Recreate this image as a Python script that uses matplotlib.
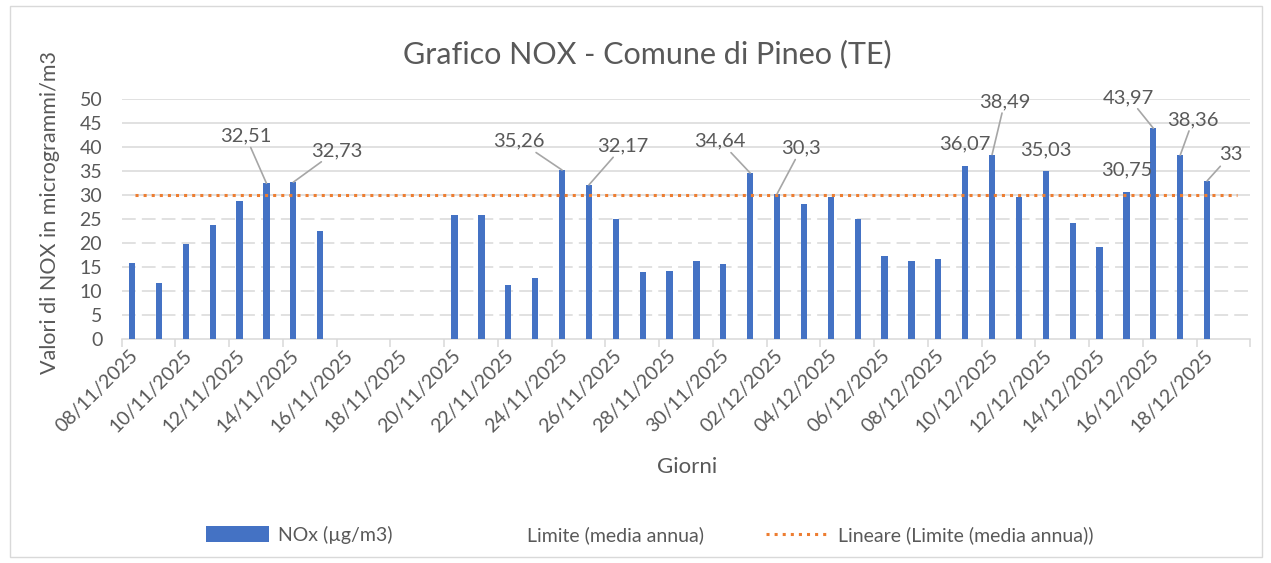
import numpy as np
import pandas as pd
import matplotlib
matplotlib.use('Agg')
import matplotlib.pyplot as plt
from matplotlib.patches import Patch, Rectangle
from matplotlib.lines import Line2D

plt.rcParams['font.family'] = ['Lato', 'DejaVu Sans']

# categories: one per day, 08/11/2025 -> 19/12/2025
giorni = pd.date_range('2025-11-08', '2025-12-19', freq='D').strftime('%d/%m/%Y').tolist()

# NOx values (µg/m3), NaN = no data
nox = [16.0, 11.8, 19.9, 23.8, 28.8, 32.51, 32.73, 22.6,
       np.nan, np.nan, np.nan, np.nan,
       25.9, 25.9, 11.3, 12.7, 35.26, 32.17, 25.0, 14.0, 14.2, 16.3, 15.6,
       34.64, 30.3, 28.1, 29.7, 25.0, 17.3, 16.3, 16.8, 36.07, 38.49, 29.7,
       35.03, 24.2, 19.2, 30.75, 43.97, 38.36, 33.0, np.nan]
limite = 30  # limite media annua

# where the data labels were dragged to (dx in categories, dy in value units)
label_offsets = {5: (-0.77, 9.8), 6: (1.62, 6.6), 16: (-1.59, 6.0), 17: (1.27, 8.1),
                 23: (-1.11, 6.6), 24: (0.9, 9.5), 31: (0, 4.7), 32: (0.47, 11.0),
                 34: (0, 4.4), 37: (0, 4.65), 38: (-0.92, 6.4), 39: (0.48, 7.4),
                 40: (0.87, 5.4)}

W, H = 1271, 563
txt = '#595959'
grid = '#D9D9D9'

fig = plt.figure(figsize=(W / 100, H / 100), dpi=100)
ax = fig.add_axes([121.7 / W, 1 - 339.3 / H, (1250.5 - 121.7) / W, 240 / H])

x = np.arange(len(giorni))
bw = 0.23
ax.bar(x - bw / 2, nox, width=bw, color='#4472C4', zorder=3)
ax.plot([x[0], x[-1]], [limite, limite], ls=':', color='#ED7D31', lw=2.2, zorder=4)

ax.set_xlim(-0.5, len(giorni) - 0.5)
ax.set_ylim(0, 50)

# gridlines: dashed under the limit, solid above
for yv in range(5, 55, 5):
    if yv < limite:
        ax.axhline(yv, color=grid, lw=1.1, ls=(0, (9, 4)), zorder=1)
    else:
        ax.axhline(yv, color=grid, lw=1.1, zorder=1)

ax.set_yticks(np.arange(0, 55, 5))
ax.tick_params(axis='y', length=0, pad=14, labelsize=14, labelcolor=txt)

# tick marks every two days, labels on the day
ax.set_xticks(np.arange(-0.5, len(giorni), 2))
ax.set_xticklabels([])
ax.set_xticks(x[::2], minor=True)
ax.set_xticklabels(giorni[::2], minor=True, rotation=45, ha='right', va='center',
                   rotation_mode='anchor')
ax.tick_params(axis='x', which='major', length=6, color=grid, width=1.1)
ax.tick_params(axis='x', which='minor', length=0, pad=10, labelsize=14, labelcolor=txt)

for s in ['top', 'right', 'left']:
    ax.spines[s].set_visible(False)
ax.spines['bottom'].set_color(grid)
ax.spines['bottom'].set_linewidth(1.1)

# data labels for values above the limit
for i, v in enumerate(nox):
    if np.isnan(v) or v <= limite:
        continue
    dx, dy = label_offsets.get(i, (0, 4.5))
    xb = i - bw / 2
    lab = f'{v:g}'.replace('.', ',')
    arrow = dict(arrowstyle='-', color='#A6A6A6', lw=1.2, shrinkA=0, shrinkB=0) if dx != 0 else None
    ax.annotate(lab, xy=(xb, v), xytext=(xb + dx, v + dy), ha='center', va='center',
                fontsize=14.5, color=txt, arrowprops=arrow, annotation_clip=False, zorder=5)

fig.text(647 / W, 1 - 54 / H, 'Grafico NOX - Comune di Pineo (TE)', ha='center', va='center',
         fontsize=22, color=txt)
fig.text(50 / W, 1 - 213 / H, 'Valori di NOX in microgrammi/m3', rotation=90,
         ha='center', va='center', fontsize=15.5, color=txt)
fig.text(687 / W, 1 - 467 / H, 'Giorni', ha='center', va='center', fontsize=16, color=txt)

handles = [Patch(facecolor='#4472C4', edgecolor='none'),
           Patch(facecolor='none', edgecolor='none'),
           Line2D([], [], ls=':', color='#ED7D31', lw=2.2)]
labels = ['NOx (µg/m3)', 'Limite (media annua)', 'Lineare (Limite (media annua))']
leg = fig.legend(handles, labels, loc='center', bbox_to_anchor=(650 / W, 1 - 535 / H),
                 ncol=3, frameon=False, fontsize=14, handlelength=3.2, handleheight=0.9,
                 handletextpad=0.5, columnspacing=3.2)
for t in leg.get_texts():
    t.set_color(txt)

fig.patches.append(Rectangle((10 / W, 6 / H), 1252 / W, 551 / H, transform=fig.transFigure,
                             fill=False, edgecolor=grid, lw=1))

fig.savefig('out.png', dpi=100)
